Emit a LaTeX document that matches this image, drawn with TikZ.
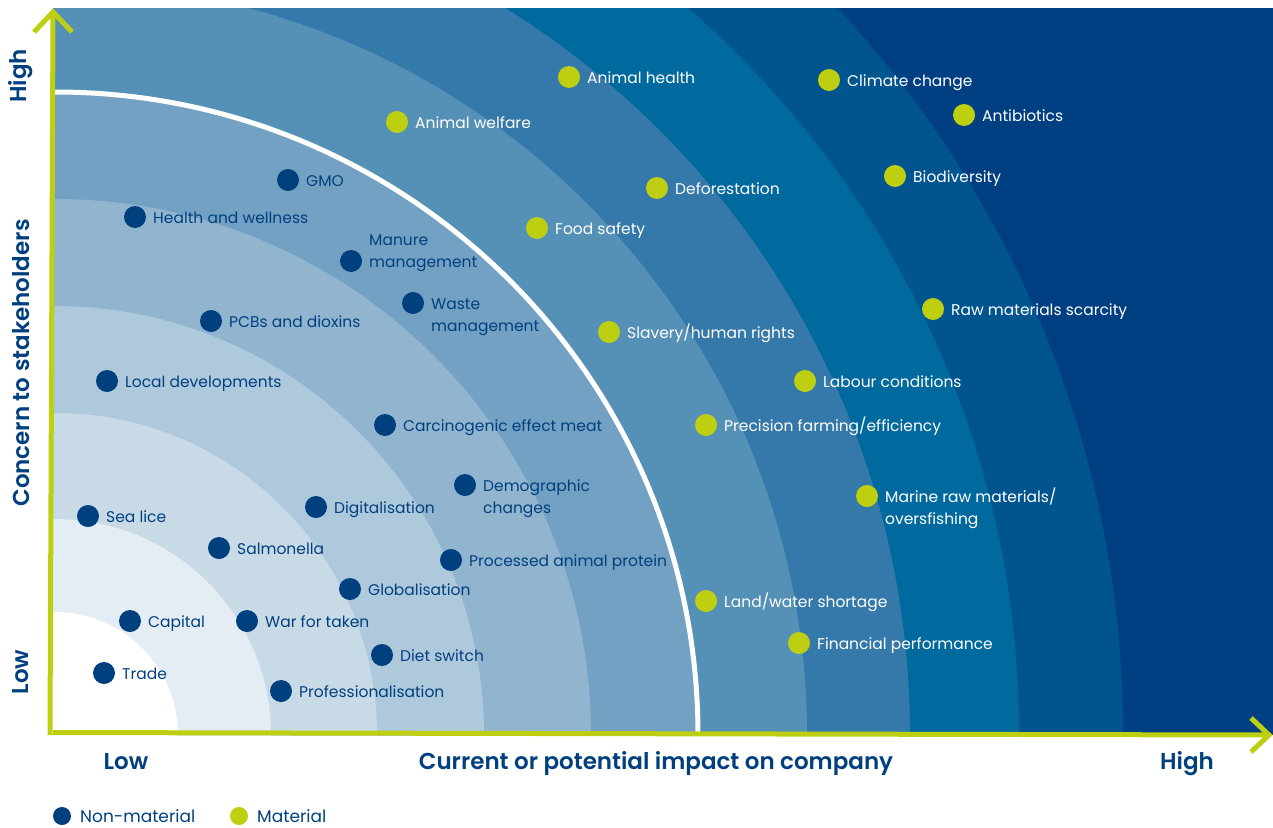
\documentclass[tikz,border=0pt]{standalone}
\usepackage{fontspec}
\setmainfont{Poppins}
\IfFontExistsTF{Poppins SemiBold}{\newfontfamily\axfont{Poppins SemiBold}}{\newcommand{\axfont}{\bfseries}}
\usetikzlibrary{calc}
\definecolor{navy}{HTML}{00407F}
\definecolor{lime}{HTML}{BDCF10}
\definecolor{bA}{HTML}{013F83}
\definecolor{bB}{HTML}{00558F}
\definecolor{bC}{HTML}{00699E}
\definecolor{bD}{HTML}{3479A9}
\definecolor{bE}{HTML}{5591B7}
\definecolor{bF}{HTML}{73A1C3}
\definecolor{bG}{HTML}{91B4CF}
\definecolor{bH}{HTML}{AEC8DC}
\definecolor{bI}{HTML}{C9DAE7}
\definecolor{bJ}{HTML}{E4EDF4}
\newcommand{\twoT}[2]{\begin{tabular}[t]{@{}l@{}}#1\\#2\end{tabular}}
\newcommand{\twoB}[2]{\begin{tabular}[b]{@{}l@{}}#1\\#2\end{tabular}}
\tikzset{
  ndot/.style={circle,fill=navy,minimum size=22pt,inner sep=0pt},
  mdot/.style={circle,fill=lime,minimum size=22pt,inner sep=0pt},
  lab/.style={anchor=base west,xshift=18pt,yshift=-6pt,inner sep=0pt,font=\fontsize{15.5}{22}\selectfont},
  nlab/.style={lab,text=navy},
  mlab/.style={lab,text=white},
  axisline/.style={draw=lime,line width=5pt},
  axlab/.style={text=navy,font=\fontsize{23}{26}\selectfont\axfont,inner sep=0pt},
  leglab/.style={text=navy,anchor=base west,inner sep=0pt,font=\fontsize{17}{20}\selectfont}
}
\begin{document}
\begin{tikzpicture}[x=1pt,y=-1pt]
\useasboundingbox (0,0) rectangle (1273,827);
\begin{scope}
  \clip (53,8) rectangle (1273,735);
  \fill[bA] (53,8) rectangle (1273,735);
  \foreach \r/\c in {1068/bB,964/bC,855/bD,752/bE,643/bF,536/bG,429/bH,322/bI,216/bJ,123/white}
    \fill[\c] (55,735) circle[radius=\r];
  \draw[white,line width=5pt] (55,735) circle[radius=643];
\end{scope}
% axes
\coordinate (O) at (53,735);
\coordinate (ytip) at (53,12);
\coordinate (xtip) at (1269,735);
\draw[axisline] ([xshift=-3pt]O) -- (ytip);
\draw[axisline] ([yshift=2.5pt]O) -- (xtip);
\draw[axisline,line join=miter] ($(ytip)+(-19,20)$) -- (ytip) -- ($(ytip)+(19,20)$);
\draw[axisline,line join=miter] ($(xtip)+(-18,-17)$) -- (xtip) -- ($(xtip)+(-18,17)$);
% axis labels
\node[axlab,rotate=90] (yhigh) at (21,76) {High};
\node[axlab,rotate=90] (ytitle) at (21,363) {Concern to stakeholders};
\node[axlab,rotate=90] (ylow) at (21,672) {Low};
\node[axlab,anchor=base] (xlow) at (126,769) {Low};
\node[axlab,anchor=base] (xtitle) at (656,769) {Current or potential impact on company};
\node[axlab,anchor=base] (xhigh) at (1187,769) {High};
% non-material
\node[ndot] (gmo) at (288,180) {};
\node[nlab] (gmoL) at (gmo.center) {GMO};
\node[ndot] (hw) at (135,217) {};
\node[nlab] (hwL) at (hw.center) {Health and wellness};
\node[ndot] (mm) at (351,261) {};
\node[nlab] (mmL) at (mm.center) {\twoB{Manure}{management}};
\node[ndot] (wm) at (413,303) {};
\node[nlab] (wmL) at (wm.center) {\twoT{Waste}{management}};
\node[ndot] (pcb) at (211,321) {};
\node[nlab] (pcbL) at (pcb.center) {PCBs and dioxins};
\node[ndot] (ld) at (107,381) {};
\node[nlab] (ldL) at (ld.center) {Local developments};
\node[ndot] (cem) at (385,425) {};
\node[nlab] (cemL) at (cem.center) {Carcinogenic effect meat};
\node[ndot] (dc) at (465,485) {};
\node[nlab] (dcL) at (dc.center) {\twoT{Demographic}{changes}};
\node[ndot] (dig) at (316,507) {};
\node[nlab] (digL) at (dig.center) {Digitalisation};
\node[ndot] (sl) at (88,516) {};
\node[nlab] (slL) at (sl.center) {Sea lice};
\node[ndot] (sal) at (219,548) {};
\node[nlab] (salL) at (sal.center) {Salmonella};
\node[ndot] (pap) at (451,560) {};
\node[nlab] (papL) at (pap.center) {Processed animal protein};
\node[ndot] (glo) at (350,589) {};
\node[nlab] (gloL) at (glo.center) {Globalisation};
\node[ndot] (cap) at (130,621) {};
\node[nlab] (capL) at (cap.center) {Capital};
\node[ndot] (wft) at (247,621) {};
\node[nlab] (wftL) at (wft.center) {War for taken};
\node[ndot] (ds) at (382,655) {};
\node[nlab] (dsL) at (ds.center) {Diet switch};
\node[ndot] (tr) at (104,673) {};
\node[nlab] (trL) at (tr.center) {Trade};
\node[ndot] (pro) at (281,691) {};
\node[nlab] (proL) at (pro.center) {Professionalisation};
% material
\node[mdot] (ah) at (569,77) {};
\node[mlab] (ahL) at (ah.center) {Animal health};
\node[mdot] (cc) at (829,80) {};
\node[mlab] (ccL) at (cc.center) {Climate change};
\node[mdot] (ab) at (964,115) {};
\node[mlab] (abL) at (ab.center) {Antibiotics};
\node[mdot] (aw) at (397,122) {};
\node[mlab] (awL) at (aw.center) {Animal welfare};
\node[mdot] (bio) at (895,176) {};
\node[mlab] (bioL) at (bio.center) {Biodiversity};
\node[mdot] (def) at (657,188) {};
\node[mlab] (defL) at (def.center) {Deforestation};
\node[mdot] (fs) at (537,228) {};
\node[mlab] (fsL) at (fs.center) {Food safety};
\node[mdot] (rms) at (933,309) {};
\node[mlab] (rmsL) at (rms.center) {Raw materials scarcity};
\node[mdot] (shr) at (609,332) {};
\node[mlab] (shrL) at (shr.center) {Slavery/human rights};
\node[mdot] (lc) at (805,381) {};
\node[mlab] (lcL) at (lc.center) {Labour conditions};
\node[mdot] (pfe) at (706,425) {};
\node[mlab] (pfeL) at (pfe.center) {Precision farming/efficiency};
\node[mdot] (mrm) at (867,496) {};
\node[mlab] (mrmL) at (mrm.center) {\twoT{Marine raw materials/}{oversfishing}};
\node[mdot] (lws) at (706,601) {};
\node[mlab] (lwsL) at (lws.center) {Land/water shortage};
\node[mdot] (fp) at (799,643) {};
\node[mlab] (fpL) at (fp.center) {Financial performance};
% legend
\node[ndot,minimum size=18pt] (legn) at (62,816) {};
\node[leglab] (legnL) at (80,822) {Non-material};
\node[mdot,minimum size=18pt] (legm) at (239,816) {};
\node[leglab] (legmL) at (257,822) {Material};
\end{tikzpicture}
\end{document}
